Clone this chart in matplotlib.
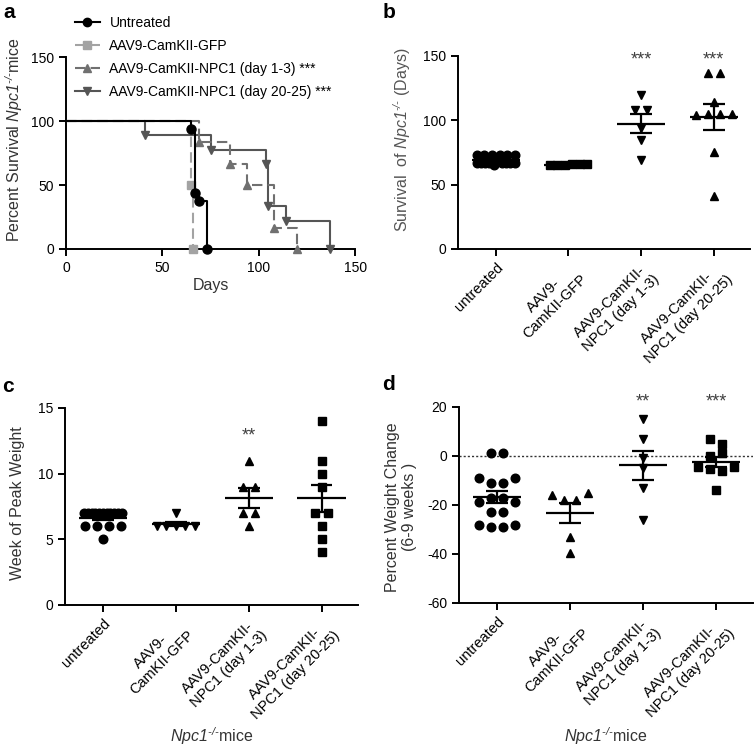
import numpy as np
import matplotlib
matplotlib.use("Agg")
import matplotlib.pyplot as plt

# -------------------- DATA --------------------
groups = ["untreated", "AAV9-\nCamKII-GFP",
          "AAV9-CamKII-\nNPC1 (day 1-3)", "AAV9-CamKII-\nNPC1 (day 20-25)"]
legend_labels = ["Untreated", "AAV9-CamKII-GFP",
                 "AAV9-CamKII-NPC1 (day 1-3) ***", "AAV9-CamKII-NPC1 (day 20-25) ***"]

# survival (days of death) -> panel b, and Kaplan-Meier steps of panel a
surv_untreated = [73, 73, 73, 73, 73, 73, 67, 67, 67, 67, 65, 69, 67, 67, 67, 67]
surv_gfp = [65, 65, 65, 66, 66, 66]
surv_early = [120, 108, 108, 94, 85, 69]
surv_late = [137, 137, 114, 104, 105, 105, 105, 75, 41]

# week of peak weight (panel c)
peak_untreated = [7, 7, 7, 7, 7, 7, 7, 7, 7, 7, 7, 6, 6, 6, 6, 5]
peak_gfp = [7, 6, 6, 6, 6, 6]
peak_early = [11, 9, 9, 7, 7, 6]
peak_late = [14, 11, 10, 9, 7, 7, 6, 5, 4]

# percent weight change 6-9 weeks (panel d)
wc_untreated = [1, 1, -9, -11, -11, -9, -19, -17, -17, -19, -23, -23, -28, -29, -29, -28]
wc_gfp = [-16, -18, -18, -15, -33, -39.5]
wc_early = [15, 7, -1, -5, -13, -26]
wc_late = [7, 5, 0, 1, -4.5, -5.5, -6, -4.5, -14]

stars_b = ["", "", "***", "***"]
stars_c = ["", "", "**", ""]
stars_d = ["", "", "**", "***"]

# -------------------- STYLE --------------------
plt.rcParams.update({
    "font.family": "Liberation Sans",
    "mathtext.fontset": "custom",
    # math is only used for the italic gene name, so make everything in it italic
    "mathtext.rm": "Liberation Sans:italic",
    "mathtext.it": "Liberation Sans:italic",
    "axes.unicode_minus": False,
    "axes.linewidth": 1.4,
    "xtick.major.width": 1.4, "ytick.major.width": 1.4,
    "xtick.major.size": 5, "ytick.major.size": 5,
    "xtick.labelsize": 10, "ytick.labelsize": 10,
})
LABEL_FS = 11.5
LABEL_COL = "#333333"
NPC = r"$\mathrm{Npc1}^{\text{-/-}}$"
km_colors = ["black", "#a3a3a3", "#707070", "#555555"]
km_markers = ["o", "s", "^", "v"]
km_styles = ["-", (0, (5, 2.5)), (0, (5, 2.5)), "-"]
dot_markers = {"b": ["o", "s", "v", "^"], "c": ["o", "v", "^", "s"], "d": ["o", "^", "v", "s"]}


def km_curve(deaths):
    d = np.sort(np.asarray(deaths, float))
    t, cnt = np.unique(d, return_counts=True)
    s = 100.0 * (1 - np.cumsum(cnt) / len(d))
    return np.concatenate([[0], t]), np.concatenate([[100], s]), t, s


def swarm_x(center, vals, tol, step=0.165, maxw=0.52):
    vals = np.asarray(vals, float)
    xs = np.full(len(vals), float(center))
    order = np.argsort(vals, kind="stable")
    grp = [[order[0]]]
    for i in order[1:]:
        if vals[i] - vals[grp[-1][0]] <= tol:
            grp[-1].append(i)
        else:
            grp.append([i])
    for g in grp:
        g = sorted(g)
        k = len(g)
        if k > 1:
            s = min(step, maxw / (k - 1))
            xs[g] = center + (np.arange(k) - (k - 1) / 2) * s
    return xs


def dot_panel(ax, data, markers, tol, stars, star_y):
    for i, vals in enumerate(data):
        xs = swarm_x(i, vals, tol)
        ax.plot(xs, vals, linestyle="none", marker=markers[i], ms=6.2,
                color="black", zorder=3, clip_on=False)
        v = np.asarray(vals, float)
        m = v.mean()
        sem = v.std(ddof=1) / np.sqrt(len(v))
        ax.hlines(m, i - 0.33, i + 0.33, color="black", lw=1.6, zorder=4)
        ax.hlines([m - sem, m + sem], i - 0.15, i + 0.15, color="black", lw=1.6, zorder=4)
        ax.vlines(i, m - sem, m + sem, color="black", lw=1.6, zorder=4)
        if stars[i]:
            ax.text(i, star_y, stars[i], ha="center", va="center", fontsize=13, color="#404040")
    ax.set_xlim(-0.52, 3.5)
    ax.set_xticks(range(len(groups)))
    ax.set_xticklabels(groups, rotation=45, ha="right", va="top",
                       rotation_mode="anchor", multialignment="center", fontsize=10.5)
    for sp in ["top", "right"]:
        ax.spines[sp].set_visible(False)


# -------------------- FIGURE --------------------
fig = plt.figure(figsize=(7.55, 7.49), dpi=100)
ax_a = fig.add_axes([0.0874, 0.6676, 0.383, 0.256])
ax_b = fig.add_axes([0.6066, 0.6676, 0.387, 0.2577])
ax_c = fig.add_axes([0.0861, 0.1923, 0.388, 0.263])
ax_d = fig.add_axes([0.6079, 0.1950, 0.389, 0.2617])

# --- panel a: Kaplan-Meier ---
handles = []
for k, deaths in enumerate([surv_untreated, surv_gfp, surv_early, surv_late]):
    x, y, t, s = km_curve(deaths)
    zo = 5 if k == 0 else 3 + (3 - k) * 0.1
    ax_a.step(x, y, where="post", color=km_colors[k], linestyle=km_styles[k],
              lw=1.5, zorder=zo, clip_on=False)
    ax_a.plot(t, s, linestyle="none", marker=km_markers[k], ms=6 if k else 6.5,
              color=km_colors[k], zorder=zo + 1, clip_on=False)
    h, = ax_a.plot([], [], color=km_colors[k], linestyle=km_styles[k], lw=1.5,
                   marker=km_markers[k], ms=6, label=legend_labels[k])
    handles.append(h)

ax_a.set_xlim(0, 150)
ax_a.set_ylim(0, 150)
ax_a.set_xticks([0, 50, 100, 150])
ax_a.set_yticks([0, 50, 100, 150])
for sp in ["top", "right"]:
    ax_a.spines[sp].set_visible(False)
ax_a.set_xlabel("Days", fontsize=LABEL_FS, color=LABEL_COL)
ax_a.xaxis.set_label_coords(0.5, -0.15)
ax_a.set_ylabel("Percent Survival " + NPC + "mice", fontsize=LABEL_FS, color=LABEL_COL)
ax_a.yaxis.set_label_coords(-0.142, 0.568)
fig.legend(handles=handles, loc="upper left", bbox_to_anchor=(0.099, 0.979),
           frameon=False, fontsize=10, handlelength=1.8, handletextpad=0.7,
           labelspacing=0.65, borderaxespad=0, borderpad=0)

# --- panel b ---
dot_panel(ax_b, [surv_untreated, surv_gfp, surv_early, surv_late],
          dot_markers["b"], 6, stars_b, 147)
ax_b.set_ylim(0, 150)
ax_b.set_yticks([0, 50, 100, 150])
ax_b.set_ylabel("Survival  of " + NPC + " (Days)", fontsize=LABEL_FS, color="#555555")
ax_b.yaxis.set_label_coords(-0.154, 0.565)

# --- panel c ---
dot_panel(ax_c, [peak_untreated, peak_gfp, peak_early, peak_late],
          dot_markers["c"], 0.5, stars_c, 12.9)
ax_c.set_ylim(0, 15)
ax_c.set_yticks([0, 5, 10, 15])
ax_c.set_ylabel("Week of Peak Weight", fontsize=LABEL_FS, color=LABEL_COL)
ax_c.yaxis.set_label_coords(-0.137, 0.515)
ax_c.set_xlabel(NPC + "mice", fontsize=LABEL_FS, color=LABEL_COL, va="center")
ax_c.xaxis.set_label_coords(0.5, -0.665)

# --- panel d ---
ax_d.axhline(0, color="#333333", lw=1.0, linestyle=(0, (1.5, 1.5)), zorder=1)
dot_panel(ax_d, [wc_untreated, wc_gfp, wc_early, wc_late],
          dot_markers["d"], 3.3, stars_d, 22.2)
ax_d.set_ylim(-60, 20)
ax_d.set_yticks([-60, -40, -20, 0, 20])
ax_d.set_ylabel("Percent Weight Change\n(6-9 weeks )", fontsize=LABEL_FS, color=LABEL_COL,
                multialignment="center")
ax_d.yaxis.set_label_coords(-0.143, 0.49)
ax_d.set_xlabel(NPC + "mice", fontsize=LABEL_FS, color=LABEL_COL, va="center")
ax_d.xaxis.set_label_coords(0.5, -0.678)

# panel letters
for lbl, x, y in [("a", 3, 18), ("b", 383, 18), ("c", 2, 392), ("d", 382, 390)]:
    fig.text(x / 755, 1 - y / 749, lbl, fontsize=15, fontweight="bold", va="baseline", ha="left")

fig.savefig("out.png", dpi=100)
